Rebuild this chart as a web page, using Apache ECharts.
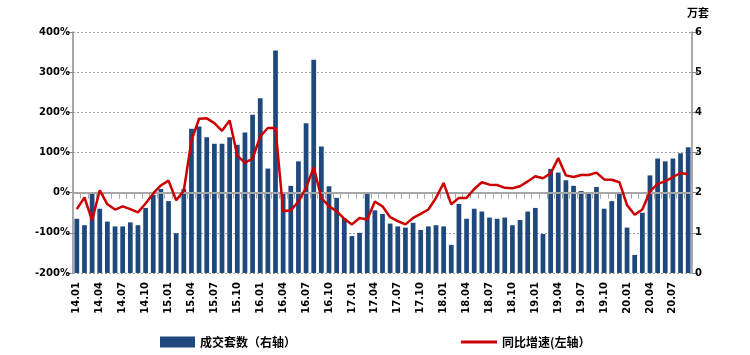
<!DOCTYPE html>
<html>
<head>
<meta charset="utf-8">
<script src="https://cdn.jsdelivr.net/npm/echarts@6/dist/echarts.min.js"></script>
<style>
html,body{margin:0;padding:0;background:#fff;}
#chart{width:750px;height:355px;}
</style>
</head>
<body>
<div id="chart"></div>
<script>
var categories = [
'14.01','14.02','14.03','14.04','14.05','14.06','14.07','14.08','14.09','14.10','14.11','14.12',
'15.01','15.02','15.03','15.04','15.05','15.06','15.07','15.08','15.09','15.10','15.11','15.12',
'16.01','16.02','16.03','16.04','16.05','16.06','16.07','16.08','16.09','16.10','16.11','16.12',
'17.01','17.02','17.03','17.04','17.05','17.06','17.07','17.08','17.09','17.10','17.11','17.12',
'18.01','18.02','18.03','18.04','18.05','18.06','18.07','18.08','18.09','18.10','18.11','18.12',
'19.01','19.02','19.03','19.04','19.05','19.06','19.07','19.08','19.09','19.10','19.11','19.12',
'20.01','20.02','20.03','20.04','20.05','20.06','20.07','20.08','20.09'
];
// 成交套数（万套，右轴）
var volume = [
1.35,1.19,1.99,1.60,1.28,1.16,1.16,1.26,1.19,1.62,1.95,2.09,
1.79,0.99,2.09,3.59,3.65,3.38,3.22,3.22,3.38,3.19,3.50,3.94,
4.35,2.60,5.54,1.97,2.17,2.78,3.73,5.31,3.15,2.16,1.87,1.36,
0.92,1.00,1.99,1.56,1.47,1.23,1.16,1.13,1.25,1.07,1.16,1.19,
1.16,0.70,1.72,1.35,1.60,1.53,1.38,1.35,1.38,1.19,1.32,1.53,
1.62,0.97,2.59,2.50,2.31,2.17,2.04,1.99,2.14,1.60,1.79,1.99,
1.13,0.45,1.50,2.43,2.85,2.78,2.85,2.98,3.13
];
// 同比增速（%，左轴）
var yoy = [
-41,-12,-69,6,-29,-42,-34,-41,-49,-27,-2,18,
30,-19,5,130,184,185,173,154,180,92,74,85,
140,161,161,-46,-44,-22,12,63,-13,-34,-46,-65,
-79,-63,-67,-22,-34,-61,-71,-79,-63,-53,-42,-13,
24,-29,-13,-13,9,26,20,19,12,11,16,28,
41,36,48,86,43,39,44,44,50,33,32,26,
-31,-55,-42,3,22,28,39,49,46
];
var leftTicks = {min:-200, max:400, interval:100};
var rightTicks = {min:0, max:6, interval:1};

var chart = echarts.init(document.getElementById('chart'), null, {renderer:'canvas'});
var axisFont = {fontFamily:'DejaVu Sans', fontWeight:'bold', fontSize:10, color:'#000'};
var cjkFont = 'Noto Sans CJK SC';
chart.setOption({
  animation:false,
  backgroundColor:'#fff',
  grid:{left:73, right:58, top:32, bottom:82, containLabel:false},
  legend:[
    {left:155, top:331, itemWidth:35, itemHeight:11, itemGap:5,
     data:[{name:'成交套数（右轴）', icon:'rect'}],
     textStyle:{fontFamily:cjkFont, fontWeight:'bold', fontSize:12, color:'#000'}},
    {left:456, top:331, itemWidth:36, itemHeight:3, itemGap:5,
     data:[{name:'同比增速(左轴）', icon:'rect'}],
     textStyle:{fontFamily:cjkFont, fontWeight:'bold', fontSize:12, color:'#000'}}
  ],
  xAxis:[
    {type:'category', data:categories, position:'bottom', boundaryGap:true,
     axisLine:{show:false, onZero:false}, axisTick:{show:false},
     axisLabel:Object.assign({interval:2, rotate:90, margin:9}, axisFont),
     splitLine:{show:false}},
    {type:'category', data:categories, position:'bottom', boundaryGap:true, z:3,
     axisLine:{show:true, onZero:true, onZeroAxisIndex:0, lineStyle:{color:'#a6a6a6', width:2}},
     axisTick:{show:true, interval:0, length:6, lineStyle:{color:'#a6a6a6', width:1}},
     axisLabel:{show:false}, splitLine:{show:false}}
  ],
  yAxis:[
    {type:'value', position:'left', min:leftTicks.min, max:leftTicks.max, interval:leftTicks.interval,
     axisLine:{show:true, lineStyle:{color:'#8c8c8c', width:1.5}},
     axisTick:{show:true, length:6, lineStyle:{color:'#8c8c8c'}},
     axisLabel:Object.assign({formatter:'{value}%', margin:3}, axisFont),
     splitLine:{show:true, lineStyle:{color:'#a0a0a0', type:[2,2], width:1}}},
    {type:'value', position:'right', min:rightTicks.min, max:rightTicks.max, interval:rightTicks.interval,
     name:'万套', nameLocation:'end', nameGap:14,
     nameTextStyle:{fontFamily:cjkFont, fontWeight:'bold', fontSize:11, color:'#000', padding:[0,0,0,12]},
     axisLine:{show:true, lineStyle:{color:'#8c8c8c', width:1.5}},
     axisTick:{show:true, length:6, lineStyle:{color:'#8c8c8c'}},
     axisLabel:Object.assign({margin:3}, axisFont),
     splitLine:{show:false}}
  ],
  series:[
    {name:'成交套数（右轴）', type:'bar', xAxisIndex:0, yAxisIndex:1, data:volume,
     barWidth:'62%', itemStyle:{color:'#1F497D'}, z:2},
    {name:'同比增速(左轴）', type:'line', xAxisIndex:0, yAxisIndex:0, data:yoy,
     symbol:'none', showSymbol:false, lineStyle:{color:'#CC0000', width:2.5}, itemStyle:{color:'#CC0000'}, z:4}
  ]
});
</script>
</body>
</html>
